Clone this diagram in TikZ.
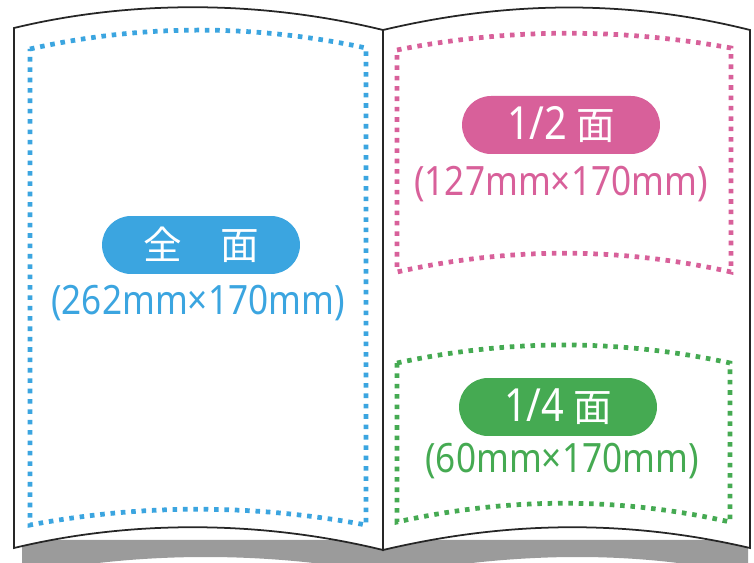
\documentclass[tikz,border=0pt]{standalone}
\usepackage{fontspec}
\setmainfont{Noto Sans CJK JP}
\newfontfamily\numfont[FakeStretch=0.87]{Noto Sans}
\definecolor{fullblue}{HTML}{3BA5E0}
\definecolor{halfpink}{HTML}{D8609A}
\definecolor{quartgreen}{HTML}{45AA52}
\definecolor{shadowgray}{HTML}{9B9B9B}
\newcommand{\pillnum}[1]{{\numfont\fontsize{26pt}{28pt}\selectfont #1}}
\begin{document}
\begin{tikzpicture}[
    x=0.02cm, y=-0.02cm,
    page/.style={draw=black!85, line width=1pt, fill=white},
    area/.style={line width=2.7pt, dash pattern=on 2.6pt off 3.3pt},
    pill/.style={fill=#1, text=white, rounded corners=0.58cm, minimum width=3.96cm,
                 minimum height=1.16cm, inner sep=0pt, font=\fontsize{22pt}{24pt}\selectfont},
    size/.style={text=#1, inner sep=0pt, anchor=base,
                 font=\numfont\fontsize{23pt}{25pt}\selectfont}
  ]
    \useasboundingbox (0,0) rectangle (754,563);

    % shadow under the book
    \fill[shadowgray] (22,540) -- (22,575) .. controls (140,551) and (270,551) .. (392,575)
      .. controls (520,551) and (640,551) .. (748,575) -- (748,540) -- cycle;

    % the two pages
    \draw[page] (14,28) .. controls (130,0) and (260,0) .. (383,30) -- (383,550)
      .. controls (260,520) and (130,520) .. (14,548) -- cycle;
    \draw[page] (383,30) .. controls (510,0) and (630,0) .. (750,30) -- (750,548)
      .. controls (630,520) and (510,520) .. (383,550) -- cycle;

    % dotted areas
    \draw[area, fullblue] (30,49) .. controls (140,24) and (255,24) .. (366,48) -- (366,525)
      .. controls (255,504) and (140,504) .. (30,525) -- cycle;
    \draw[area, halfpink] (397,50) .. controls (508,28) and (620,28) .. (731,48) -- (731,272)
      .. controls (620,247) and (508,247) .. (397,272) -- cycle;
    \draw[area, quartgreen] (397,363) .. controls (508,339) and (620,339) .. (730,363) -- (730,522)
      .. controls (620,497) and (508,497) .. (397,522) -- cycle;

    % labels
    \node[pill=fullblue] (fullpill) at (201,245) {全　面};
    \node[size=fullblue] (fullsize) at (198,315) {(262mm×170mm)};
    \node[pill=halfpink] (halfpill) at (561,125) {\pillnum{1/2} 面};
    \node[size=halfpink] (halfsize) at (561,196) {(127mm×170mm)};
    \node[pill=quartgreen] (quartpill) at (558,407) {\pillnum{1/4} 面};
    \node[size=quartgreen] (quartsize) at (562,473) {(60mm×170mm)};
  \end{tikzpicture}
\end{document}
